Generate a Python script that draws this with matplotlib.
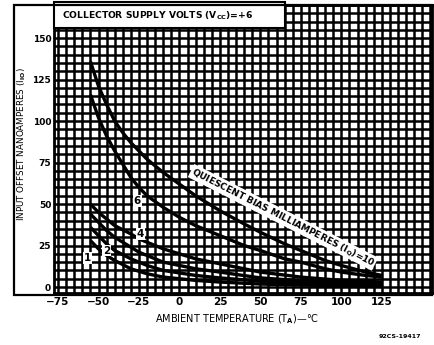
import matplotlib
matplotlib.use("Agg")
import matplotlib.pyplot as plt
from matplotlib.patches import Rectangle
from matplotlib.ticker import MultipleLocator

plt.rcParams.update({
    "font.family": "DejaVu Sans", "font.weight": "bold",
    "mathtext.default": "bf",
})

# ambient temperature (deg C) and input offset current (nA) per quiescent bias
temp = [-55, -50, -45, -40, -35, -30, -25, -20, -10, 0, 10, 25, 40, 50, 65, 75, 90, 100, 115, 125]
iio_10ma = [136, 121, 110, 100, 93, 87, 82, 77, 69, 62, 55, 46, 38, 33, 26, 22, 16, 13, 9, 7]
iio_6ma = [116, 102, 91, 82, 74, 66, 60, 55, 48, 42, 37, 31, 25, 22, 17, 15, 11, 9, 7, 6]

temp_low = [-55, -50, -45, -40, -30, -25, -20, -10, 0, 10, 25, 50, 75, 100, 125]
iio_4ma = [50, 45, 41, 37, 32, 29, 27, 23, 20, 17, 14, 9, 6, 4, 3]
iio_mid = [44, 39, 34, 30, 24, 21, 19, 15, 13, 11, 9, 5.5, 3.8, 2.6, 2]
iio_2ma = [36, 31, 26, 22, 17, 15, 13, 10, 8.5, 7, 5.5, 3.5, 2.4, 1.6, 1.2]
iio_1ma = [28, 23, 19, 16, 11, 9.5, 8, 6, 5, 4, 3, 1.8, 1.2, 0.8, 0.6]

# curve tags: (text, temp, nA)
tags = [("6", -26, 52), ("4", -24, 32), ("2", -45, 22), ("1", -57, 17.5)]

xticks = [-75, -50, -25, 0, 25, 50, 75, 100, 125]
yticks = [0, 25, 50, 75, 100, 125, 150]

fig = plt.figure(figsize=(4.34, 3.45), dpi=100)
ax = fig.add_axes([0.1244, 0.1507, 0.871, 0.835])

# outer border that also wraps the y label
fig.add_artist(Rectangle((0.032, 0.145), 0.963, 0.841, transform=fig.transFigure,
                         fill=False, ec="black", lw=1.6))

ax.set_xlim(-77.5, 156)
ax.set_ylim(-3.6, 170)
ax.set_xticks(xticks)
ax.set_yticks(yticks)
ax.xaxis.set_minor_locator(MultipleLocator(5))
ax.yaxis.set_minor_locator(MultipleLocator(5))
ax.grid(which="both", color="black", lw=1.8)
ax.tick_params(which="both", length=0)
ax.tick_params(axis="x", labelsize=7.5, pad=3)
ax.tick_params(axis="y", labelsize=6.5, pad=2)
ax.set_axisbelow(True)
for s in ax.spines.values():
    s.set_linewidth(2)

for ys, xs in [(iio_10ma, temp), (iio_6ma, temp), (iio_4ma, temp_low),
               (iio_mid, temp_low), (iio_2ma, temp_low), (iio_1ma, temp_low)]:
    ax.plot(xs, ys, color="black", lw=2.4, solid_capstyle="butt", zorder=3)

for t, x, y in tags:
    ax.text(x, y, t, ha="center", va="center", fontsize=7.5, zorder=4,
            bbox=dict(boxstyle="square,pad=0.08", fc="white", ec="none"))

ax.text(64, 42, "QUIESCENT BIAS MILLIAMPERES (I$_Q$)=10", rotation=-27,
        rotation_mode="anchor", ha="center", va="center", fontsize=6.5, zorder=4,
        bbox=dict(boxstyle="square,pad=0.1", fc="white", ec="none"))

# header box with supply voltage
ax.add_patch(Rectangle((0, 0.92), 0.611, 0.09, transform=ax.transAxes,
                       fc="white", ec="black", lw=1.5, zorder=5, clip_on=False))
ax.text(0.021, 0.962, "COLLECTOR SUPPLY VOLTS (V$_{CC}$)=+6", transform=ax.transAxes,
        ha="left", va="center", fontsize=6.6, zorder=6)

ax.set_ylabel("INPUT OFFSET NANOAMPERES (I$_{IO}$)", fontsize=6.3)
ax.yaxis.set_label_coords(-0.068, 0.517)
ax.set_xlabel("AMBIENT TEMPERATURE (T$_A$)\u2014\u00b0C", fontsize=7)
ax.xaxis.set_label_coords(0.484, -0.068)
fig.text(0.922, 0.025, "92CS-19417", ha="center", va="center", fontsize=4.5)

fig.savefig("out.png", dpi=100)
